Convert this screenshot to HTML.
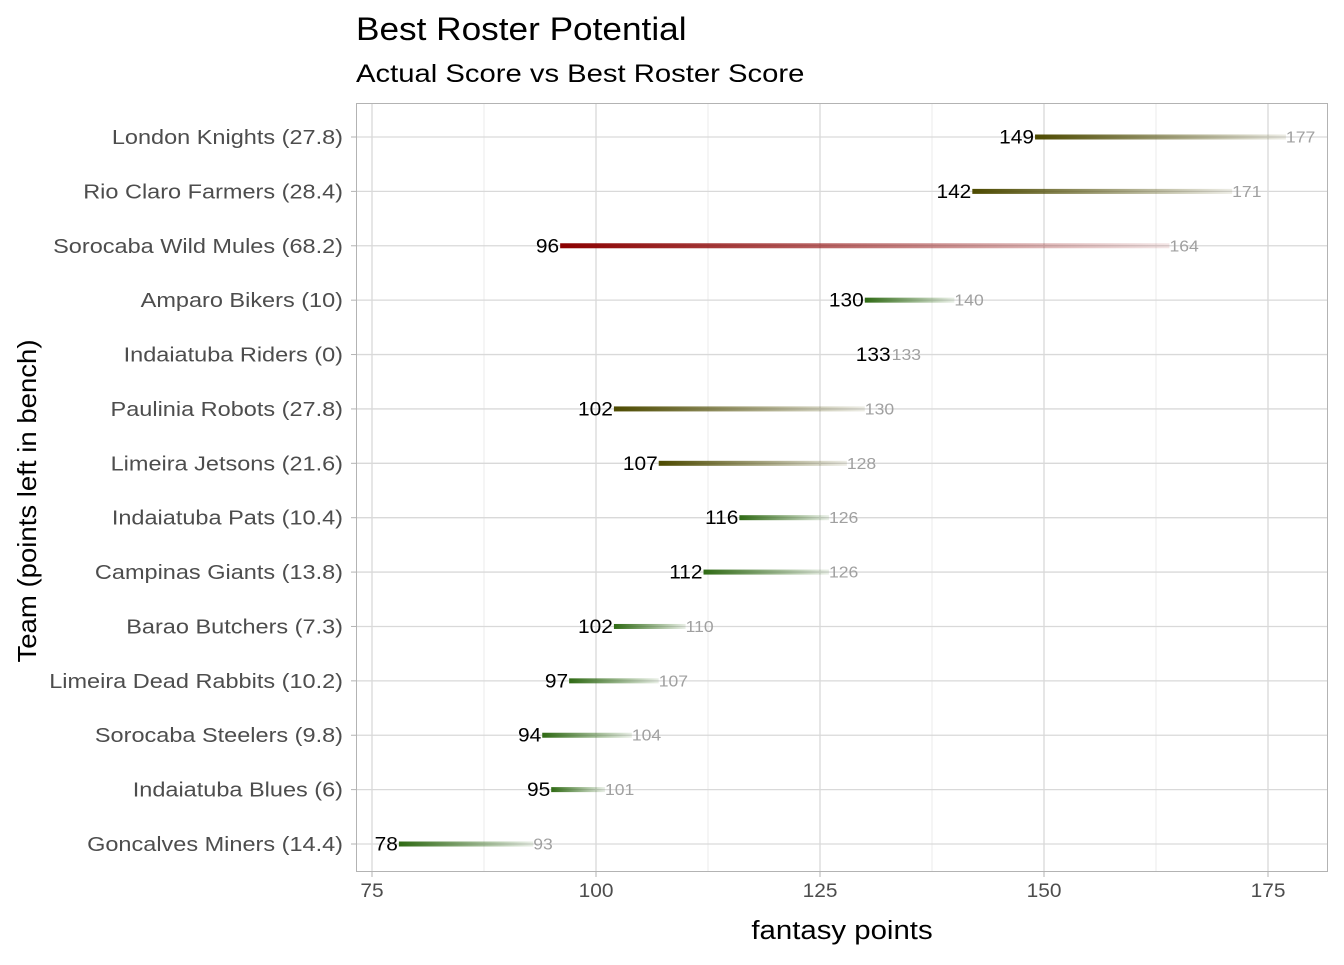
<!DOCTYPE html>
<html><head><meta charset="utf-8"><style>
body{margin:0;background:#fff}
svg text{font-family:"Liberation Sans",Arial,sans-serif}
</style></head><body>
<svg width="1344" height="960" viewBox="0 0 1344 960" xmlns="http://www.w3.org/2000/svg">
<defs>
<linearGradient id="gO" x1="0" x2="1" y1="0" y2="0"><stop offset="0" stop-color="#4d4a00" stop-opacity="1"/><stop offset="1" stop-color="#4d4a00" stop-opacity="0.1"/></linearGradient>
<linearGradient id="gR" x1="0" x2="1" y1="0" y2="0"><stop offset="0" stop-color="#8b0000" stop-opacity="1"/><stop offset="1" stop-color="#8b0000" stop-opacity="0.1"/></linearGradient>
<linearGradient id="gG" x1="0" x2="1" y1="0" y2="0"><stop offset="0" stop-color="#2f6a14" stop-opacity="1"/><stop offset="1" stop-color="#2f6a14" stop-opacity="0.1"/></linearGradient>
</defs>
<text transform="translate(356,40) scale(1.1,1)" font-size="32" fill="#000">Best Roster Potential</text>
<text transform="translate(356,82) scale(1.17,1)" font-size="25" fill="#000">Actual Score vs Best Roster Score</text>
<g stroke="#ebebeb" stroke-width="1">
<line x1="484" y1="103" x2="484" y2="872"/><line x1="708" y1="103" x2="708" y2="872"/><line x1="932" y1="103" x2="932" y2="872"/><line x1="1156" y1="103" x2="1156" y2="872"/>
</g>
<g stroke="#d9d9d9" stroke-width="1.3">
<line x1="372" y1="103" x2="372" y2="872"/><line x1="596" y1="103" x2="596" y2="872"/><line x1="820" y1="103" x2="820" y2="872"/><line x1="1044" y1="103" x2="1044" y2="872"/><line x1="1268" y1="103" x2="1268" y2="872"/>
</g>
<g stroke="#d9d9d9" stroke-width="1.3" id="hg"></g>
<rect x="356.5" y="103.5" width="971" height="768" fill="none" stroke="#b3b3b3" stroke-width="1"/>
<g id="rows"></g>
<g font-size="19" fill="#4d4d4d" text-anchor="middle">
<text transform="translate(372,897) scale(1.1,1)">75</text><text transform="translate(596,897) scale(1.1,1)">100</text><text transform="translate(820,897) scale(1.1,1)">125</text><text transform="translate(1044,897) scale(1.1,1)">150</text><text transform="translate(1268,897) scale(1.1,1)">175</text>
</g>
<g stroke="#b3b3b3"><line x1="372" y1="872" x2="372" y2="877"/><line x1="596" y1="872" x2="596" y2="877"/><line x1="820" y1="872" x2="820" y2="877"/><line x1="1044" y1="872" x2="1044" y2="877"/><line x1="1268" y1="872" x2="1268" y2="877"/></g>
<text transform="translate(842,939) scale(1.13,1)" font-size="26" text-anchor="middle" fill="#000">fantasy points</text>
<text transform="translate(36,501) rotate(-90) scale(1.06,1)" font-size="26" text-anchor="middle" fill="#000">Team (points left in bench)</text>
</svg>
<script>
var d=[["London Knights (27.8)",149,177,"gO"],["Rio Claro Farmers (28.4)",142,171,"gO"],["Sorocaba Wild Mules (68.2)",96,164,"gR"],["Amparo Bikers (10)",130,140,"gG"],["Indaiatuba Riders (0)",133,133,"gG"],["Paulinia Robots (27.8)",102,130,"gO"],["Limeira Jetsons (21.6)",107,128,"gO"],["Indaiatuba Pats (10.4)",116,126,"gG"],["Campinas Giants (13.8)",112,126,"gG"],["Barao Butchers (7.3)",102,110,"gG"],["Limeira Dead Rabbits (10.2)",97,107,"gG"],["Sorocaba Steelers (9.8)",94,104,"gG"],["Indaiatuba Blues (6)",95,101,"gG"],["Goncalves Miners (14.4)",78,93,"gG"]];
var ns="http://www.w3.org/2000/svg",r=document.getElementById("rows"),hg=document.getElementById("hg"),svg=document.querySelector("svg");
function el(t,a,p,txt){var e=document.createElementNS(ns,t);for(var k in a)e.setAttribute(k,a[k]);if(txt!=null)e.textContent=txt;(p||r).appendChild(e);return e;}
function X(v){return 372+(v-75)*8.96;}
d.forEach(function(o,i){var y=137+i*54.385;
el("line",{x1:357,x2:1327,y1:y,y2:y},hg);
el("line",{x1:351,x2:356,y1:y,y2:y,stroke:"#b3b3b3"},svg);
el("text",{transform:"translate(343,"+(y+7)+") scale(1.175,1)","font-size":20,fill:"#4d4d4d","text-anchor":"end"},svg,o[0]);
var a=X(o[1]),b=X(o[2]);
if(b>a)el("rect",{x:a,y:y-2.5,width:b-a,height:5,fill:"url(#"+o[3]+")"});
el("text",{transform:"translate("+(a-1)+","+(y+6.5)+") scale(1.1,1)","font-size":19,fill:"#000","text-anchor":"end"},null,o[1]);
el("text",{transform:"translate("+b+","+(y+5.5)+") scale(1.1,1)","font-size":16,fill:"#a0a0a0"},null,o[2]);
});
</script>
</body></html>
